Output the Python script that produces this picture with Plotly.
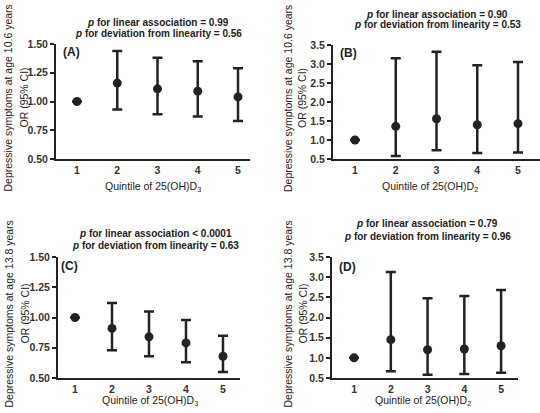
import plotly.graph_objects as go

quintiles = [1, 2, 3, 4, 5]

# Panel A: 25(OH)D3, age 10.6
or_a = [1.00, 1.16, 1.11, 1.09, 1.04]
lo_a = [None, 0.93, 0.89, 0.87, 0.83]
hi_a = [None, 1.44, 1.38, 1.35, 1.29]
# Panel B: 25(OH)D2, age 10.6
or_b = [1.00, 1.36, 1.56, 1.40, 1.43]
lo_b = [None, 0.58, 0.73, 0.66, 0.67]
hi_b = [None, 3.15, 3.32, 2.97, 3.05]
# Panel C: 25(OH)D3, age 13.8
or_c = [1.00, 0.91, 0.84, 0.79, 0.68]
lo_c = [None, 0.73, 0.68, 0.63, 0.55]
hi_c = [None, 1.12, 1.05, 0.98, 0.85]
# Panel D: 25(OH)D2, age 13.8
or_d = [1.00, 1.45, 1.20, 1.22, 1.30]
lo_d = [None, 0.67, 0.58, 0.60, 0.63]
hi_d = [None, 3.13, 2.48, 2.53, 2.68]

labels = ["(A)", "(B)", "(C)", "(D)"]
titles = [
    ("<i>p</i> for linear association = 0.99", "<i>p</i> for deviation from linearity = 0.56"),
    ("<i>p</i> for linear association = 0.90", "<i>p</i> for deviation from linearity = 0.53"),
    ("<i>p</i> for linear association < 0.0001", "<i>p</i> for deviation from linearity = 0.63"),
    ("<i>p</i> for linear association = 0.79", "<i>p</i> for deviation from linearity = 0.96"),
]
ylab1 = ["Depressive symptoms at age 10.6 years", "Depressive symptoms at age 10.6 years",
         "Depressive symptoms at age 13.8 years", "Depressive symptoms at age 13.8 years"]
ylab2 = "OR (95% CI)"
xlabs = ["Quintile of 25(OH)D<sub>3</sub>", "Quintile of 25(OH)D<sub>2</sub>",
         "Quintile of 25(OH)D<sub>3</sub>", "Quintile of 25(OH)D<sub>2</sub>"]
yticks_small = [0.50, 0.75, 1.00, 1.25, 1.50]
yticks_big = [0.5, 1.0, 1.5, 2.0, 2.5, 3.0, 3.5]

W, H = 540, 413
def px(x): return x / W
def py(y): return 1 - y / H

# layout geometry (pixels)
panels = [
    dict(x0=56, x1=250, y0=44, y1=159, xr=[0.478, 5.298], yr=[0.5, 1.5], ticks=yticks_small, fmt=".2f",
         title_x=158, t1=22, t2=34, lab=(71, 52), yl1=8, yl2=23, xt=187, xtx=153),
    dict(x0=333, x1=540, y0=45, y1=159, xr=[0.46, 5.54], yr=[0.5, 3.5], ticks=yticks_big, fmt=".1f",
         title_x=437, t1=14, t2=25, lab=(348, 53), yl1=288, yl2=302, xt=187, xtx=430),
    dict(x0=58, x1=240, y0=257, y1=378, xr=[0.54, 5.46], yr=[0.5, 1.5], ticks=yticks_small, fmt=".2f",
         title_x=155, t1=233, t2=245, lab=(69, 266), yl1=8, yl2=24, xt=401, xtx=150),
    dict(x0=332, x1=518, y0=257, y1=378, xr=[0.40, 5.46], yr=[0.5, 3.5], ticks=yticks_big, fmt=".1f",
         title_x=427, t1=223, t2=236, lab=(347, 267), yl1=287, yl2=302, xt=401, xtx=423),
]
data = [(or_a, lo_a, hi_a), (or_b, lo_b, hi_b), (or_c, lo_c, hi_c), (or_d, lo_d, hi_d)]

fig = go.Figure()
ink = "#222222"
font = "Liberation Sans, Arial, sans-serif"
annotations = []

def ann(x, y, text, size, bold=False, angle=0):
    return dict(x=px(x), y=py(y), xref="paper", yref="paper", text=text, textangle=angle,
                xanchor="center", yanchor="middle", showarrow=False,
                font=dict(family=font, size=size, color=ink, weight="bold" if bold else "normal"))

for i, (p, (ors, los, his)) in enumerate(zip(panels, data)):
    n = "" if i == 0 else str(i + 1)
    plus = [None if h is None else h - o for o, h in zip(ors, his)]
    minus = [None if l is None else o - l for o, l in zip(ors, los)]
    fig.add_trace(go.Scatter(
        x=quintiles, y=ors, mode="markers", xaxis="x" + n, yaxis="y" + n,
        marker=dict(size=9, color=ink),
        error_y=dict(type="data", array=plus, arrayminus=minus, color=ink, thickness=2.5, width=5),
        showlegend=False, cliponaxis=False))
    fig.layout["xaxis" + n] = dict(
        domain=[px(p["x0"]), px(p["x1"])], range=p["xr"], anchor="y" + n, automargin=False,
        tickvals=quintiles, showline=True, linecolor=ink, linewidth=2, ticks="",
        showgrid=False, zeroline=False, fixedrange=True,
        tickfont=dict(family=font, size=10.5, color="#333333", weight="bold"))
    fig.layout["yaxis" + n] = dict(
        domain=[py(p["y1"]), py(p["y0"])], range=p["yr"], anchor="x" + n, automargin=False,
        tickvals=p["ticks"], tickformat=p["fmt"],
        showline=True, linecolor=ink, linewidth=2, ticks="outside", ticklen=4, tickwidth=1.5,
        tickcolor=ink, showgrid=False, zeroline=False, fixedrange=True,
        tickfont=dict(family=font, size=10.5, color="#333333", weight="bold"))
    mid = (p["y0"] + p["y1"]) / 2
    annotations += [
        ann(p["title_x"], p["t1"], titles[i][0], 10, bold=True),
        ann(p["title_x"], p["t2"], titles[i][1], 10, bold=True),
        ann(p["lab"][0], p["lab"][1], labels[i], 12, bold=True),
        ann(p["yl1"], mid - 3, ylab1[i], 10.5, angle=-90),
        ann(p["yl2"], mid - 4, ylab2, 10.5, angle=-90),
        ann(p["xtx"], p["xt"], xlabs[i], 10.5),
    ]

fig.update_layout(width=W, height=H, margin=dict(l=0, r=0, t=0, b=0),
                  paper_bgcolor="white", plot_bgcolor="white", annotations=annotations)
fig.write_html("out.html", config={"displayModeBar": False},
               post_script="document.body.style.margin='0';document.body.style.padding='0';")
